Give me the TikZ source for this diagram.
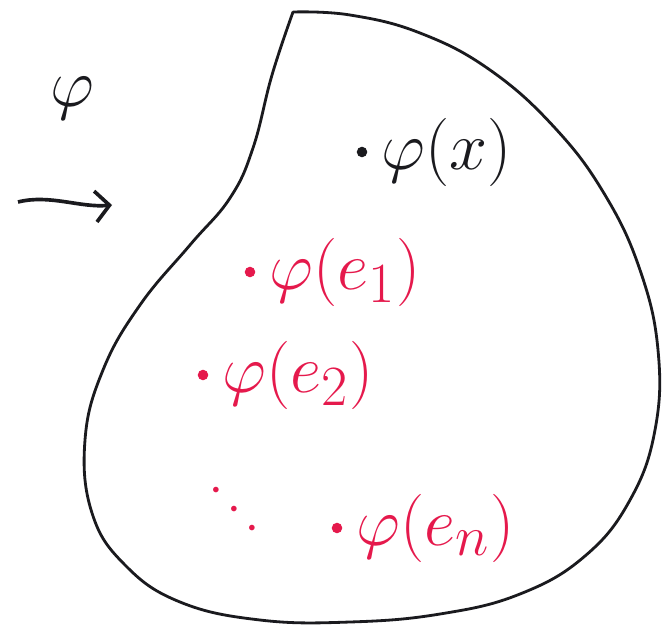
\documentclass[tikz,border=0pt]{standalone}
\usepackage{graphicx}
\usepackage{tikz}
\usetikzlibrary{arrows.meta, positioning}
\definecolor{inkBlack}{HTML}{1A1A1E}
\definecolor{inkRed}{HTML}{E5194C}
\newcommand{\bigmath}[1]{\scalebox{1.95}{\Huge$#1$}}

\begin{document}
\begin{tikzpicture}[x=0.025cm, y=-0.025cm,
      lbl/.style={inner sep=0pt, anchor=west},
      ptdot/.style={circle, fill, inner sep=0pt, minimum size=7.5pt},
      node distance=10pt]
    \useasboundingbox (0,0) rectangle (668,629);
    % the image set
    \draw[inkBlack, line width=2pt, line cap=round]
      plot[smooth, tension=0.7] coordinates {(293,12) (272,75) (253,148) (230,198)
        (190,245) (140,305) (103,370) (85,440) (92,513) (125,565) (180,602)
        (260,620) (350,622) (440,614) (520,594) (585,556) (630,500) (655,430)
        (658,350) (640,270) (605,195) (555,128) (490,70) (420,33) (350,15)
        (293,12)};
    % map name and arrow
    \node[lbl, anchor=center, inkBlack] (phi) at (72,98) {\bigmath{\varphi}};
    \coordinate (arrS) at (18,202);
    \coordinate (arrE) at (112,205);
    \draw[inkBlack, line width=2.6pt, -{Straight Barb[length=10pt, width=22pt]}]
      (arrS) .. controls (50,194) and (80,208) .. (arrE);
    % image of x
    \node[ptdot, inkBlack] (dx) at (362,152) {};
    \node[lbl, inkBlack, right=of dx] (fx) {\bigmath{\varphi(x)}};
    % images of the basis
    \node[ptdot, inkRed] (d1) at (250,272) {};
    \node[lbl, inkRed, right=of d1] (fe1) {\bigmath{\varphi(e_1)}};
    \node[ptdot, inkRed] (d2) at (203,375) {};
    \node[lbl, inkRed, right=of d2] (fe2) {\bigmath{\varphi(e_2)}};
    \node[lbl, anchor=center, inkRed, rotate=-28] (dd) at (238,502) {\bigmath{\ddots}};
    \node[ptdot, inkRed] (dn) at (337,528) {};
    \node[lbl, inkRed, right=of dn] (fen) {\bigmath{\varphi(e_n)}};
  \end{tikzpicture}
\end{document}
